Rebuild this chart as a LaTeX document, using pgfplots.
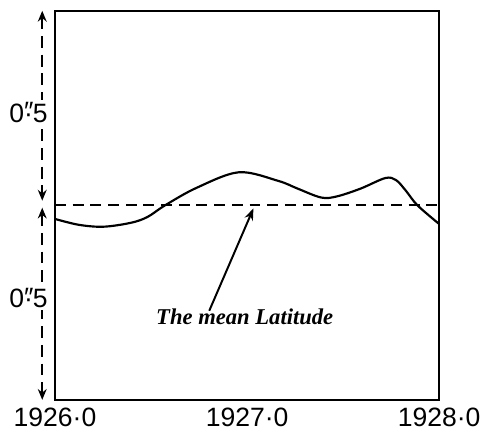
\documentclass[border=0pt]{standalone}
\usepackage{pgfplots}
\pgfplotsset{compat=1.18}
\usepackage{fontspec}
\setmainfont{Liberation Sans}
\newfontfamily\annofont{Liberation Serif}
\usetikzlibrary{arrows.meta}

\begin{document}
\begin{tikzpicture}
\begin{axis}[
  name=ax,
  scale only axis,
  width=195.5pt, height=198pt,
  xmin=1926, xmax=1928,
  ymin=-0.5, ymax=0.5,
  clip=false,
  axis line style={line width=1.2pt},
  xtick={1926,1927,1928},
  xticklabels={1926·0,1927·0,1928·0},
  ytick=\empty,
  major tick length=0pt,
  xticklabel style={font=\fontsize{13.5}{13.5}\selectfont, yshift=-0.5pt},
]
% mean latitude
\addplot[black, line width=0.9pt, dash pattern=on 5.5pt off 3.5pt]
  coordinates {(1926,0) (1928,0)};
% variation of latitude
\addplot[black, line width=1.1pt, smooth, tension=0.55] coordinates {
  (1926.000,-0.035) (1926.123,-0.050) (1926.251,-0.055) (1926.394,-0.045)
  (1926.481,-0.030) (1926.573,0.000) (1926.737,0.045) (1926.957,0.085)
  (1927.161,0.063) (1927.263,0.043) (1927.386,0.020) (1927.468,0.023)
  (1927.591,0.043) (1927.719,0.070) (1927.775,0.065) (1927.826,0.038)
  (1927.887,0.000) (1928.000,-0.048)
};
% scale arrows at the left
\draw[line width=1pt, dash pattern=on 6pt off 3.5pt, {Stealth[length=5.5pt,width=4.5pt]}-{Stealth[length=5.5pt,width=4.5pt]}]
  ([xshift=-6.5pt]axis cs:1926,0.5) -- ([xshift=-6.5pt]axis cs:1926,0.012);
\draw[line width=1pt, dash pattern=on 6pt off 3.5pt, {Stealth[length=5.5pt,width=4.5pt]}-{Stealth[length=5.5pt,width=4.5pt]}]
  ([xshift=-6.5pt]axis cs:1926,-0.006) -- ([xshift=-6.5pt]axis cs:1926,-0.5);
\node[fill=white, inner sep=1pt, font=\fontsize{13.5}{13.5}\selectfont]
  at ([xshift=-13.5pt]axis cs:1926,0.239) {0\rlap{\raisebox{0.05em}{″}}·5};
\node[fill=white, inner sep=1pt, font=\fontsize{13.5}{13.5}\selectfont]
  at ([xshift=-13.5pt]axis cs:1926,-0.239) {0\rlap{\raisebox{0.05em}{″}}·5};
% label for the mean line
\draw[line width=1pt, -{Stealth[length=6pt,width=4.5pt]}]
  (axis cs:1926.803,-0.271) -- (axis cs:1927.033,-0.008);
\node[anchor=north west, inner sep=0pt, font=\annofont\bfseries\itshape\fontsize{11.5}{13}\selectfont]
  at (axis cs:1926.525,-0.266) {The mean Latitude};
\end{axis}
\path ([shift={(-28pt,-17.5pt)}]ax.south west) rectangle ([shift={(20pt,5.5pt)}]ax.north east);
\end{tikzpicture}
\end{document}
